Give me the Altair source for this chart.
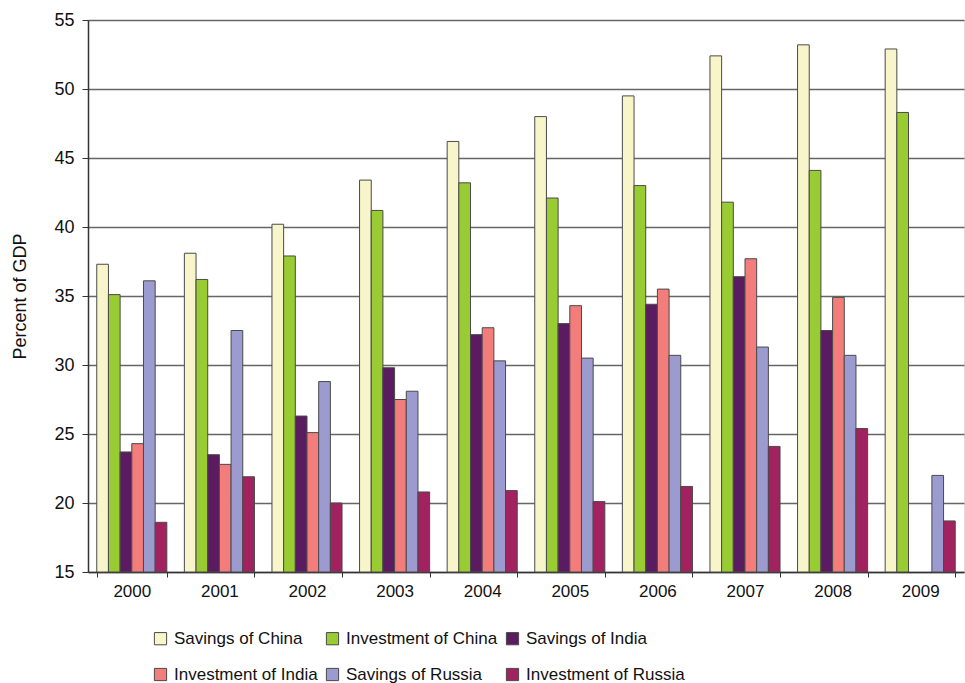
import altair as alt
import pandas as pd

years = ["2000", "2001", "2002", "2003", "2004", "2005", "2006", "2007", "2008", "2009"]
series_names = ["Savings of China", "Investment of China", "Savings of India",
                "Investment of India", "Savings of Russia", "Investment of Russia"]
savings_china = [37.3, 38.1, 40.2, 43.4, 46.2, 48.0, 49.5, 52.4, 53.2, 52.9]
investment_china = [35.1, 36.2, 37.9, 41.2, 43.2, 42.1, 43.0, 41.8, 44.1, 48.3]
savings_india = [23.7, 23.5, 26.3, 29.8, 32.2, 33.0, 34.4, 36.4, 32.5, None]
investment_india = [24.3, 22.8, 25.1, 27.5, 32.7, 34.3, 35.5, 37.7, 34.9, None]
savings_russia = [36.1, 32.5, 28.8, 28.1, 30.3, 30.5, 30.7, 31.3, 30.7, 22.0]
investment_russia = [18.6, 21.9, 20.0, 20.8, 20.9, 20.1, 21.2, 24.1, 25.4, 18.7]
colors = ["#F7F5C9", "#99CC33", "#5B1B60", "#F27D7A", "#9C9BD0", "#A2215F"]

all_series = [savings_china, investment_china, savings_india,
              investment_india, savings_russia, investment_russia]
rows = []
for name, vals in zip(series_names, all_series):
    for y, v in zip(years, vals):
        if v is not None:
            rows.append({"year": y, "series": name, "value": v})
df = pd.DataFrame(rows)

FONT = "Liberation Sans"

chart = alt.Chart(df).mark_bar(stroke="#4a4a4a", strokeWidth=1).encode(
    x=alt.X("year:N", sort=years, title=None,
            scale=alt.Scale(paddingInner=0.2, paddingOuter=0.1),
            axis=alt.Axis(labelAngle=0, labelFont=FONT, labelFontSize=17, labelColor="#111",
                          tickBand="extent", tickSize=5, tickColor="#333", domainColor="#333",
                          domainWidth=1.5, labelPadding=6, grid=False)),
    xOffset=alt.XOffset("series:N", sort=series_names,
                        scale=alt.Scale(paddingInner=0, paddingOuter=0)),
    y=alt.Y("value:Q", title="Percent of GDP",
            scale=alt.Scale(domain=[15, 55], nice=False, zero=False),
            axis=alt.Axis(values=[15, 20, 25, 30, 35, 40, 45, 50, 55], labelFont=FONT,
                          labelFontSize=18, labelColor="#111", tickSize=6, tickColor="#333",
                          labelPadding=8, domainColor="#333", domainWidth=1.5,
                          gridColor="#666", gridWidth=1.5,
                          titleFont=FONT, titleFontSize=18, titleFontWeight="normal",
                          titleColor="#111", titlePadding=24)),
    y2=alt.datum(15),
    color=alt.Color("series:N", sort=series_names,
                    scale=alt.Scale(domain=series_names, range=colors),
                    legend=alt.Legend(title=None, orient="none", legendX=64, legendY=610,
                                      direction="horizontal",
                                      columns=3, columnPadding=6, rowPadding=18,
                                      symbolType="square", symbolSize=150,
                                      symbolStrokeColor="#4a4a4a", symbolStrokeWidth=1,
                                      labelFont=FONT, labelFontSize=17,
                                      labelColor="#111", labelOffset=5, labelLimit=300,
                                      padding=0)),
).properties(
    width=876, height=552,
    autosize=alt.AutoSizeParams(type="none"),
    padding={"left": 88, "top": 20, "right": 1, "bottom": 111},
).configure_view(stroke=None).configure(background="white")

chart.save("out.html", embed_options={"renderer": "svg", "actions": False})
